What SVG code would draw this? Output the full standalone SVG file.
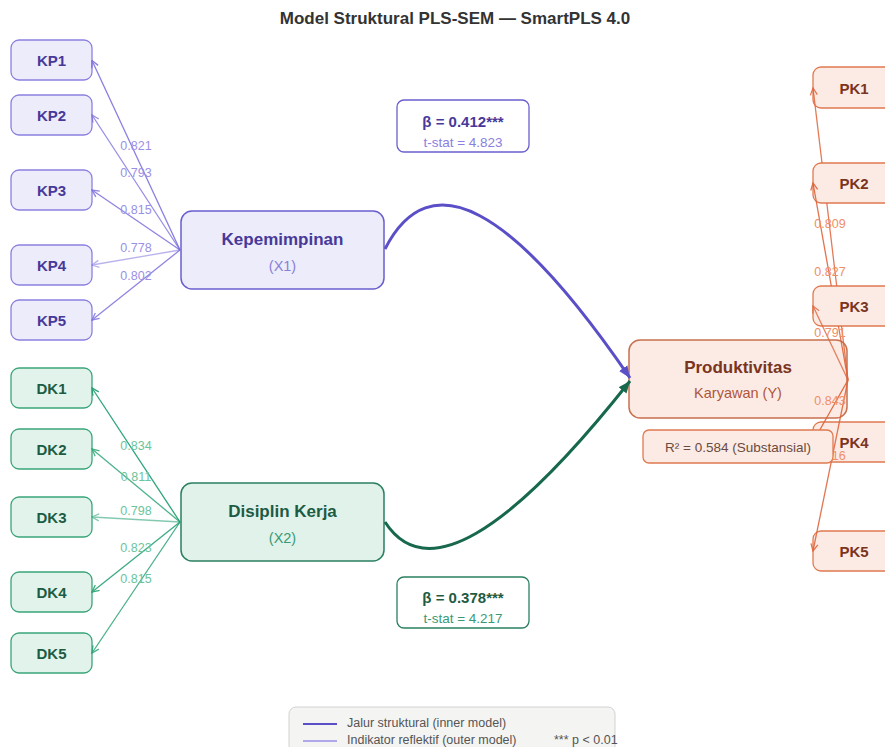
<svg xmlns="http://www.w3.org/2000/svg" width="885" height="747" viewBox="0 0 885 747">
<defs>
<style>
text{font-family:"Liberation Sans",Arial,sans-serif;dominant-baseline:central;text-anchor:middle}
.title{font-size:17px;font-weight:bold;fill:#333}
.kp rect{fill:#ececfb;stroke:#8b80e0;stroke-width:1.3}
.kp text{font-size:15px;font-weight:bold;fill:#47399a}
.dk rect{fill:#e1f3eb;stroke:#3aa57a;stroke-width:1.3}
.dk text{font-size:15px;font-weight:bold;fill:#1d5c43}
.pk rect{fill:#fbebe4;stroke:#e07a50;stroke-width:1.3}
.pk text{font-size:15px;font-weight:bold;fill:#7a3420}
.lat{font-size:17px;font-weight:bold}
.sub{font-size:14.5px}
.lkp{stroke:#7569dc;stroke-width:1.3}
.ldk{stroke:#22a070;stroke-width:1.3}
.lpk{stroke:#e0643a;stroke-width:1.3}
.loadkp{font-size:12.5px;fill:#9a90e6}
.loaddk{font-size:12.5px;fill:#6cc49c}
.loadpk{font-size:12.5px;fill:#f08e66}
.beta{font-size:15px;font-weight:bold}
.tstat{font-size:13.5px}
.leg{font-size:12.5px;fill:#555;text-anchor:start}
</style>
<marker id="akp" viewBox="-9 -5 10 10" refX="0" refY="0" markerWidth="10" markerHeight="10" markerUnits="userSpaceOnUse" orient="auto"><path d="M-7,-3.5 L0,0 L-7,3.5" fill="none" stroke="#7569dc" stroke-width="1.3"/></marker>
<marker id="adk" viewBox="-9 -5 10 10" refX="0" refY="0" markerWidth="10" markerHeight="10" markerUnits="userSpaceOnUse" orient="auto"><path d="M-7,-3.5 L0,0 L-7,3.5" fill="none" stroke="#22a070" stroke-width="1.3"/></marker>
<marker id="apk" viewBox="-9 -5 10 10" refX="0" refY="0" markerWidth="10" markerHeight="10" markerUnits="userSpaceOnUse" orient="auto"><path d="M-7,-3.5 L0,0 L-7,3.5" fill="none" stroke="#e0643a" stroke-width="1.3"/></marker>
<marker id="as1" viewBox="-12 -6 13 12" refX="0" refY="0" markerWidth="13" markerHeight="12" markerUnits="userSpaceOnUse" orient="auto"><path d="M-12,-5 L0,0 L-12,5 Z" fill="#5b4fc7"/></marker>
<marker id="as2" viewBox="-12 -6 13 12" refX="0" refY="0" markerWidth="13" markerHeight="12" markerUnits="userSpaceOnUse" orient="auto"><path d="M-12,-5 L0,0 L-12,5 Z" fill="#17684c"/></marker>
</defs>
<rect width="885" height="747" fill="#ffffff"/>
<text class="title" x="455" y="18">Model Struktural PLS-SEM — SmartPLS 4.0</text>

<g id="KP1" class="kp"><rect x="11" y="40" width="81" height="40" rx="8"/><text x="51.5" y="60">KP1</text></g>
<g id="KP2" class="kp"><rect x="11" y="95" width="81" height="40" rx="8"/><text x="51.5" y="115">KP2</text></g>
<g id="KP3" class="kp"><rect x="11" y="170" width="81" height="40" rx="8"/><text x="51.5" y="190">KP3</text></g>
<g id="KP4" class="kp"><rect x="11" y="245" width="81" height="40" rx="8"/><text x="51.5" y="265">KP4</text></g>
<g id="KP5" class="kp"><rect x="11" y="300" width="81" height="40" rx="8"/><text x="51.5" y="320">KP5</text></g>

<g id="DK1" class="dk"><rect x="11" y="368" width="81" height="40" rx="8"/><text x="51.5" y="388">DK1</text></g>
<g id="DK2" class="dk"><rect x="11" y="429" width="81" height="40" rx="8"/><text x="51.5" y="449">DK2</text></g>
<g id="DK3" class="dk"><rect x="11" y="497" width="81" height="40" rx="8"/><text x="51.5" y="517">DK3</text></g>
<g id="DK4" class="dk"><rect x="11" y="572" width="81" height="40" rx="8"/><text x="51.5" y="592">DK4</text></g>
<g id="DK5" class="dk"><rect x="11" y="633" width="81" height="40" rx="8"/><text x="51.5" y="653">DK5</text></g>

<g id="X1"><rect x="181" y="211" width="203" height="78" rx="11" fill="#ececfb" stroke="#6a5fcf" stroke-width="1.5"/><text class="lat" x="282.5" y="239" fill="#47399a">Kepemimpinan</text><text class="sub" x="282.5" y="266" fill="#8a80d6">(X1)</text></g>
<g id="X2"><rect x="181" y="483" width="203" height="78" rx="11" fill="#e0f2ea" stroke="#2a8060" stroke-width="1.5"/><text class="lat" x="282.5" y="511" fill="#1d5c43">Disiplin Kerja</text><text class="sub" x="282.5" y="538" fill="#3a9a75">(X2)</text></g>

<g id="Y"><rect x="629" y="340" width="218" height="78" rx="11" fill="#fbebe4" stroke="#c8714e" stroke-width="1.5"/><text class="lat" x="738" y="367" font-size="17.5" fill="#7a3420">Produktivitas</text><text class="sub" x="738" y="393" fill="#b0553a">Karyawan (Y)</text></g>

<g id="beta1"><rect x="397" y="100" width="132" height="52" rx="7" fill="#ffffff" stroke="#6a5fcf" stroke-width="1.3"/><text class="beta" x="463" y="121" fill="#47399a">β = 0.412***</text><text class="tstat" x="463" y="142" fill="#8b80e0">t-stat = 4.823</text></g>
<g id="beta2"><rect x="397" y="577" width="132" height="51" rx="7" fill="#ffffff" stroke="#2a8060" stroke-width="1.3"/><text class="beta" x="463" y="597" fill="#1d5c43">β = 0.378***</text><text class="tstat" x="463" y="618" fill="#3a9a75">t-stat = 4.217</text></g>

<g id="PK1" class="pk"><rect x="813" y="67" width="81" height="41" rx="8"/><text x="854" y="88">PK1</text></g>
<g id="PK2" class="pk"><rect x="813" y="163" width="81" height="40" rx="8"/><text x="854" y="183">PK2</text></g>
<g id="PK3" class="pk"><rect x="813" y="286" width="81" height="40" rx="8"/><text x="854" y="306">PK3</text></g>
<g id="PK4" class="pk"><rect x="813" y="422" width="81" height="40" rx="8"/><text x="854" y="442">PK4</text></g>
<g id="PK5" class="pk"><rect x="813" y="531" width="81" height="40" rx="8"/><text x="854" y="551">PK5</text></g>

<g id="connectors" fill="none">
<line class="lkp" x1="180" y1="250" x2="92" y2="60.5" marker-end="url(#akp)" opacity="0.85"/>
<line class="lkp" x1="180" y1="250" x2="92" y2="115" marker-end="url(#akp)" opacity="0.75"/>
<line class="lkp" x1="180" y1="250" x2="92" y2="190" marker-end="url(#akp)" opacity="0.82"/>
<line class="lkp" x1="180" y1="250" x2="92" y2="265" marker-end="url(#akp)" opacity="0.5"/>
<line class="lkp" x1="180" y1="250" x2="92" y2="320" marker-end="url(#akp)" opacity="0.8"/>
<line class="ldk" x1="180" y1="522" x2="92" y2="388" marker-end="url(#adk)" opacity="0.95"/>
<line class="ldk" x1="180" y1="522" x2="92" y2="449" marker-end="url(#adk)" opacity="0.8"/>
<line class="ldk" x1="180" y1="522" x2="92" y2="517" marker-end="url(#adk)" opacity="0.55"/>
<line class="ldk" x1="180" y1="522" x2="92" y2="592" marker-end="url(#adk)" opacity="0.88"/>
<line class="ldk" x1="180" y1="522" x2="92" y2="653" marker-end="url(#adk)" opacity="0.82"/>
<path d="M385,249 Q452,118 630,378" stroke="#5b4fc7" stroke-width="3" marker-end="url(#as1)"/>
<path d="M385,522 Q445,615 630,381" stroke="#17684c" stroke-width="3" marker-end="url(#as2)"/>
<path class="lpk" d="M848,380 L841.5,326 M836.7,286 L826.8,203 M822,163 L813,88" marker-end="url(#apk)" opacity="0.85"/>
<path class="lpk" d="M848,380 L838.4,326 M831.3,286 L813,183" marker-end="url(#apk)" opacity="0.9"/>
<line class="lpk" x1="848" y1="380" x2="813" y2="306" marker-end="url(#apk)" opacity="0.8"/>
<line class="lpk" x1="848" y1="380" x2="813" y2="442" marker-end="url(#apk)" opacity="0.95"/>
<line class="lpk" x1="848" y1="380" x2="813" y2="551" marker-end="url(#apk)" opacity="0.88"/>
</g>

<g id="loadings">
<text class="loadkp" x="136" y="146">0.821</text>
<text class="loadkp" x="136" y="173">0.793</text>
<text class="loadkp" x="136" y="210">0.815</text>
<text class="loadkp" x="136" y="248">0.778</text>
<text class="loadkp" x="136" y="276">0.802</text>
<text class="loaddk" x="136" y="446">0.834</text>
<text class="loaddk" x="136" y="477">0.811</text>
<text class="loaddk" x="136" y="511">0.798</text>
<text class="loaddk" x="136" y="548">0.823</text>
<text class="loaddk" x="136" y="579">0.815</text>
<text class="loadpk" x="830" y="224">0.809</text>
<text class="loadpk" x="830" y="272">0.827</text>
<text class="loadpk" x="830" y="333">0.791</text>
<text class="loadpk" x="830" y="401">0.843</text>
<text class="loadpk" x="830" y="456">0.816</text>
</g>

<g id="R2"><rect x="643" y="430" width="190" height="33" rx="6" fill="#fbebe4" stroke="#e07a50" stroke-width="1.3"/><text x="738" y="447" font-size="13.5" fill="#6b4a40">R² = 0.584 (Substansial)</text></g>

<g id="legend"><rect x="289" y="707" width="326" height="50" rx="7" fill="#f4f4f3" stroke="#d2d2d2" stroke-width="1"/>
<line x1="303" y1="724" x2="337" y2="724" stroke="#5b4fc7" stroke-width="2.2"/>
<line x1="303" y1="741" x2="337" y2="741" stroke="#9a90e6" stroke-width="1.5"/>
<text class="leg" x="347" y="723">Jalur struktural (inner model)</text>
<text class="leg" x="347" y="740">Indikator reflektif (outer model)</text>
<text class="leg" x="554" y="740">*** p &lt; 0.01</text>
</g>
</svg>
